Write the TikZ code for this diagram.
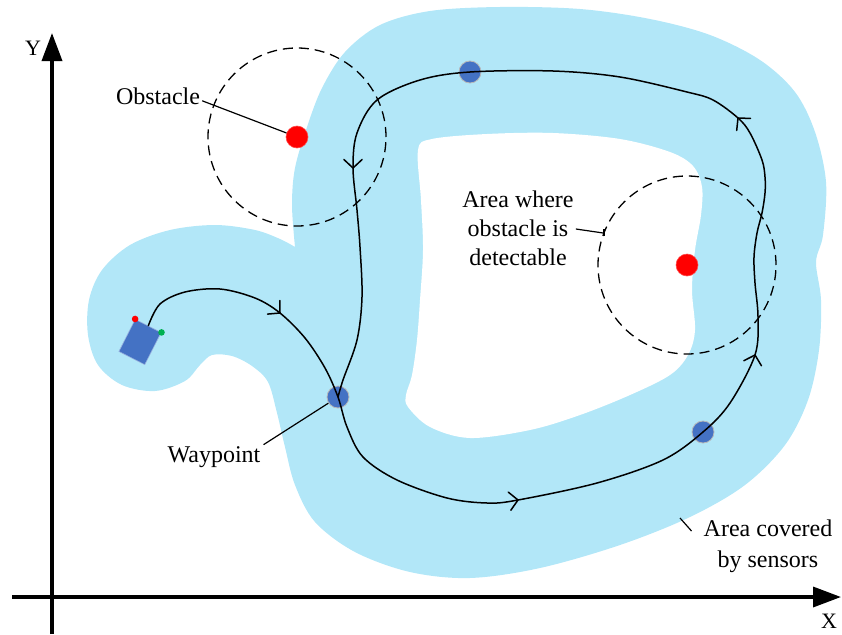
\documentclass[tikz,border=0pt]{standalone}
\usepackage{fontspec}
\setmainfont{Liberation Serif}
\usetikzlibrary{arrows.meta,calc}
\definecolor{sensor}{RGB}{178,231,248}
\definecolor{wpblue}{RGB}{68,114,196}
\definecolor{obsred}{RGB}{255,0,0}
\definecolor{dotgreen}{RGB}{0,176,80}
\newcommand{\chevron}[2]{\draw[pathline] ($(#1)+(#2+133:12.5)$) -- (#1) -- ($(#1)+(#2-133:12.5)$);}
\begin{document}
\begin{tikzpicture}[x=1pt,y=1pt,
  pathline/.style={line width=1.5pt, line join=round, line cap=round},
  dashcirc/.style={line width=1.3pt, dash pattern=on 10pt off 6pt},
  waypt/.style={circle, fill=wpblue, draw=gray!55, line width=0.8pt, minimum size=22pt, inner sep=0pt},
  obst/.style={circle, fill=obsred, draw=obsred!70!white, line width=0.6pt, minimum size=22pt, inner sep=0pt},
  lbl/.style={font=\fontsize{24}{29}\selectfont, inner sep=2pt, align=center},
  axislbl/.style={font=\fontsize{22}{26}\selectfont, inner sep=0pt},
  axisline/.style={line width=3.5pt, -{Triangle[length=28pt,width=20pt]}},
  leader/.style={line width=1.2pt}]
\useasboundingbox (0,0) rectangle (842,-634);

% sensor coverage area
\fill[sensor] plot[smooth, tension=0.55] coordinates {
 (295,-247) (292,-205) (295,-168) (307,-127) (322,-88) (345,-52) (380,-25)
 (430,-11) (500,-7) (580,-9) (650,-19) (710,-35) (760,-60) (795,-92)
 (815,-132) (826,-182) (823,-235) (816,-262) (821,-300) (819,-350) (808,-400)
 (785,-445) (745,-485) (690,-517) (620,-545) (540,-568) (470,-578) (410,-572)
 (355,-552) (315,-522) (295,-485) (285,-447) (277,-413) (268,-382) (252,-366)
 (232,-356) (212,-355) (200,-365) (185,-381) (155,-391) (122,-385) (98,-365)
 (88,-335) (89,-300) (102,-270) (130,-245) (170,-230) (215,-225) (255,-230)
 (280,-239) (295,-247)} -- cycle;
% inner hole
\fill[white] plot[smooth cycle, tension=0.55] coordinates {
 (418,-150) (432,-139) (487,-134) (553,-133) (620,-139) (670,-152) (693,-166)
 (702,-187) (701,-215) (695,-250) (692,-290) (695,-330) (688,-355) (670,-375)
 (630,-395) (580,-415) (530,-430) (470,-438) (430,-427) (408,-407) (406,-395)
 (412,-375) (417,-340) (420,-300) (423,-250) (421,-200)};

% axes
\draw[axisline] (52,-634) -- (52,-33);
\draw[axisline] (12,-597) -- (841,-597);
\node[axislbl] (ylab) at (33,-48) {Y};
\node[axislbl] (xlab) at (829,-621) {X};

% obstacles and detection areas
\coordinate (O1c) at (297,-137);
\coordinate (O2c) at (687,-265);
\draw[dashcirc] (O1c) circle[radius=89];
\draw[dashcirc] (O2c) circle[radius=89];

% waypoints
\node[waypt] (W1) at (338,-397) {};
\node[waypt] (W2) at (470,-72) {};
\node[waypt] (W3) at (703,-432) {};

% robot
\node[rectangle, fill=wpblue, draw=wpblue!55!white, line width=0.6pt,
      minimum width=29pt, minimum height=36pt, inner sep=0pt, rotate=-27] (robot) at (140,-342) {};
\fill[obsred] (robot.north west) circle[radius=3.3];
\fill[dotgreen] (robot.north east) circle[radius=3.3];

% path
\coordinate (A1) at (280,-313);
\coordinate (A2) at (518,-500);
\coordinate (A3) at (755,-355);
\coordinate (A4) at (738,-118);
\coordinate (A5) at (353,-168);
\draw[pathline] plot[smooth, tension=0.55] coordinates {
 (robot.north) (160,-304) (185,-292) (220,-289) (255,-298) (A1) (305,-338)
 (325,-368) (W1) (347,-427) (363,-457) (397,-480) (447,-498) (487,-503) (A2)
 (597,-483) (663,-460) (W3) (730,-403) (A3) (758,-317) (755,-283) (754,-257)
 (757,-233) (762,-213) (765,-193) (765,-177) (762,-160) (750,-133) (A4)
 (713,-100) (687,-92) (620,-77) (553,-71) (W2) (420,-80) (377,-100) (357,-133)
 (A5) (357,-210) (360,-247) (362,-297) (357,-340) (343,-380) (W1)};
\chevron{A1}{-42}
\chevron{A2}{8}
\chevron{A3}{74}
\chevron{A4}{131}
\chevron{A5}{-90}

\node[obst] (O1) at (O1c) {};
\node[obst] (O2) at (O2c) {};

% labels
\node[lbl, anchor=base] (obstlbl) at (158,-104) {Obstacle};
\draw[leader] ($(obstlbl.east)+(0,-5)$) -- (O1);

\node[lbl, anchor=base] (wplbl) at (214,-462) {Waypoint};
\draw[leader] ($(wplbl.east)+(1,12)$) -- (W1);

\node[lbl] (detlbl) at (518,-228) {Area where\\obstacle is\\detectable};
\coordinate (detpt) at ($(O2c)+(159:89)$);
\draw[leader] ($(detlbl.east)+(0,-1)$) -- (detpt);
\draw[leader] ($(detpt)+(0,4)$) -- ($(detpt)+(0,-3)$);

\node[lbl, font=\fontsize{24}{31}\selectfont] (covlbl) at (768,-546) {Area covered\\by sensors};
\coordinate (covpt) at (680,-518);
\draw[leader] (covpt) -- ($(covlbl.west)+(-10,15)$);
\end{tikzpicture}
\end{document}
